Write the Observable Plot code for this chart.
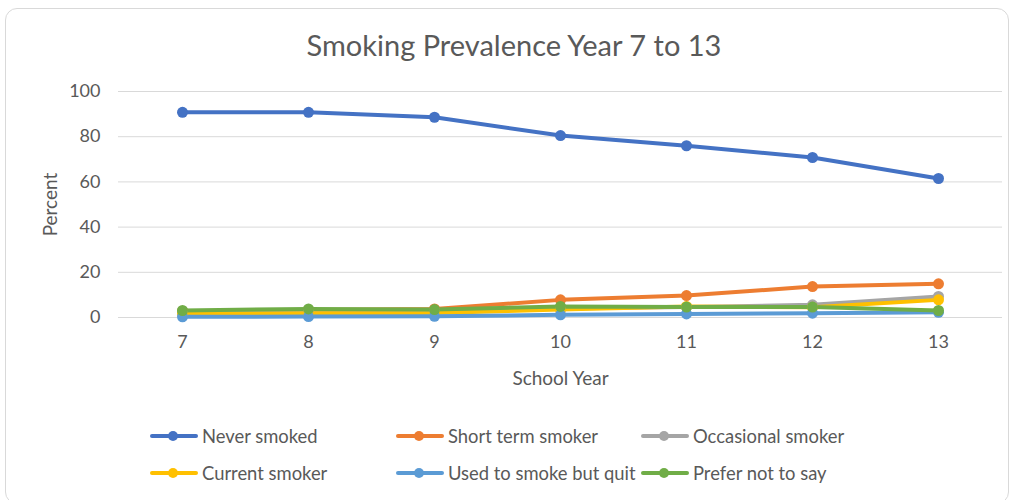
<!DOCTYPE html>
<html>
<head>
<meta charset="utf-8">
<script src="https://cdn.jsdelivr.net/npm/d3@7"></script>
<script src="https://cdn.jsdelivr.net/npm/@observablehq/plot@0.6"></script>
<style>
  html, body { margin: 0; padding: 0; background: #fff; }
  body { width: 1014px; height: 500px; position: relative; overflow: hidden; font-family: Lato, "Liberation Sans", sans-serif; color: #595959; }
  #card { position: absolute; left: 5px; top: 8px; width: 1004px; height: 496px; border: 1px solid #d9d9d9; border-radius: 12px; box-sizing: border-box; }
  #title { position: absolute; left: 7px; top: 28px; width: 1014px; text-align: center; font-size: 29px; line-height: 34px; color: #595959; }
  #chart { position: absolute; left: 0; top: 65px; }
  .leg { position: absolute; display: flex; align-items: center; font-size: 18.4px; color: #595959; white-space: nowrap; }
  .leg svg { margin-right: 3px; }
</style>
</head>
<body>
<div id="card"></div>
<div id="title">Smoking Prevalence Year 7 to 13</div>
<div id="chart"></div>
<div id="legend"></div>
<script>
const years = [7, 8, 9, 10, 11, 12, 13];
const seriesNames = ["Never smoked", "Short term smoker", "Occasional smoker", "Current smoker", "Used to smoke but quit", "Prefer not to say"];
const colors = ["#4472C4", "#ED7D31", "#A5A5A5", "#FFC000", "#5B9BD5", "#70AD47"];
const neverSmoked = [90.8, 90.8, 88.6, 80.5, 76.0, 70.8, 61.5];
const shortTerm = [2.8, 3.3, 3.8, 7.8, 9.7, 13.7, 14.9];
const occasional = [2.0, 2.5, 3.0, 4.0, 4.6, 5.6, 9.3];
const current = [1.6, 1.9, 2.0, 3.5, 4.9, 4.5, 7.8];
const quit = [0.3, 0.4, 0.5, 1.2, 1.6, 1.9, 2.3];
const preferNot = [3.1, 3.8, 3.5, 4.9, 4.6, 4.6, 3.1];
const yTicks = [0, 20, 40, 60, 80, 100];

const seriesValues = [neverSmoked, shortTerm, occasional, current, quit, preferNot];
const data = [];
seriesNames.forEach((name, i) => {
  years.forEach((yr, j) => data.push({series: name, year: yr, value: seriesValues[i][j]}));
});

const chart = Plot.plot({
  width: 1014,
  height: 330,
  marginLeft: 118,
  marginRight: 12,
  marginTop: 26,
  marginBottom: 78,
  style: {fontFamily: "Lato, 'Liberation Sans', sans-serif", fontSize: "18px", color: "#595959", background: "transparent", overflow: "visible"},
  x: {type: "point", domain: years, padding: 0.5, label: null},
  y: {domain: [0, 100], ticks: yTicks, label: null},
  color: {domain: seriesNames, range: colors},
  marks: [
    Plot.gridY(yTicks, {stroke: "#d9d9d9", strokeOpacity: 1, strokeWidth: 1}),
    Plot.axisY(yTicks, {tickSize: 0, tickPadding: 18, fontSize: 18, fill: "#595959"}),
    Plot.axisX(years, {tickSize: 0, tickPadding: 18, fontSize: 18, fill: "#595959"}),
    Plot.text(["School Year"], {frameAnchor: "bottom", lineAnchor: "middle", dy: 61, fontSize: 19, fill: "#595959"}),
    Plot.text(["Percent"], {frameAnchor: "left", textAnchor: "middle", lineAnchor: "middle", dx: -68, rotate: -90, fontSize: 19, fill: "#595959"}),
    Plot.line(data, {x: "year", y: "value", z: "series", stroke: "series", strokeWidth: 4, strokeLinejoin: "round", strokeLinecap: "round"}),
    Plot.dot(data, {x: "year", y: "value", fill: "series", r: 5.5, stroke: null})
  ]
});
document.getElementById("chart").appendChild(chart);

const legendPos = [[150, 436], [396, 436], [641, 436], [150, 473], [396, 473], [641, 473]];
const legend = document.getElementById("legend");
seriesNames.forEach((name, i) => {
  const d = document.createElement("div");
  d.className = "leg";
  d.style.left = legendPos[i][0] + "px";
  d.style.top = (legendPos[i][1] - 12) + "px";
  d.style.height = "24px";
  d.innerHTML = `<svg width="49" height="12"><line x1="2" y1="6" x2="46" y2="6" stroke="${colors[i]}" stroke-width="4" stroke-linecap="round"/><circle cx="23" cy="6" r="5" fill="${colors[i]}"/></svg><span>${name}</span>`;
  legend.appendChild(d);
});
</script>
</body>
</html>
